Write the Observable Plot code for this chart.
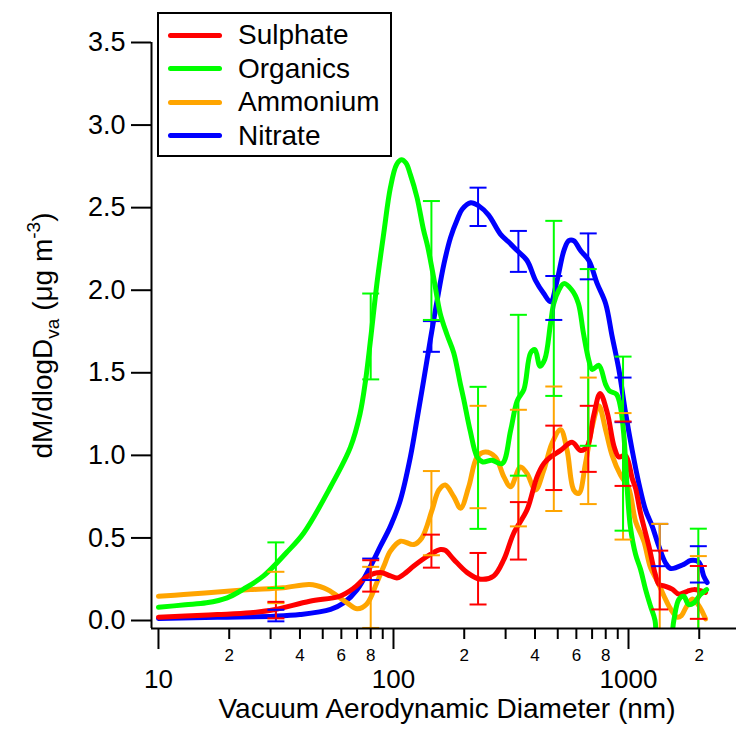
<!DOCTYPE html>
<html>
<head>
<meta charset="utf-8">
<script src="https://cdn.jsdelivr.net/npm/d3@7"></script>
<script src="https://cdn.jsdelivr.net/npm/@observablehq/plot@0.6"></script>
<style>
  html, body { margin: 0; padding: 0; background: #fff; }
  #wrap { position: relative; width: 736px; height: 734px; font-family: 'Liberation Sans', Arial, Helvetica, sans-serif; }
  #legend { position: absolute; left: 157px; top: 12px; width: 231px; height: 141px; border: 2px solid #000; background: #fff; }
  .row { position: absolute; left: 0; height: 34px; display: flex; align-items: center; }
  .sw { width: 54px; height: 5px; border-radius: 3px; margin-left: 9px; margin-right: 16px; }
  .lab { font-size: 28px; color: #000; line-height: 28px; }
</style>
</head>
<body>
<div id="wrap"><div id="chart"></div><div id="legend"></div></div>
<script>
// ---- data ----
const seriesNames = ["Sulphate", "Organics", "Ammonium", "Nitrate"];
const seriesColors = ["#ff0000", "#00ff00", "#ffa500", "#0000ff"];

const sulphateX = [10, 13, 17.8, 24.6, 31, 44, 59, 68, 77, 88, 97, 104, 113, 122, 143.5, 158.5, 166, 180.5, 206, 234.5, 267, 295, 325, 370, 408, 436, 466, 514, 575, 625, 667, 711, 757, 813, 868, 910, 971, 1037, 1072, 1125, 1221, 1300, 1346, 1414, 1534, 1637, 1778, 1897, 2023, 2127];
const sulphateY = [0.02, 0.027, 0.036, 0.047, 0.065, 0.117, 0.147, 0.198, 0.265, 0.29, 0.27, 0.258, 0.29, 0.33, 0.40, 0.43, 0.425, 0.37, 0.29, 0.25, 0.27, 0.37, 0.53, 0.67, 0.87, 0.95, 0.99, 1.03, 1.08, 1.03, 1.054, 1.24, 1.375, 1.256, 1.054, 0.99, 1.0, 0.86, 0.80, 0.65, 0.45, 0.28, 0.22, 0.21, 0.19, 0.16, 0.177, 0.187, 0.18, 0.17];

const organicsX = [10, 13, 16, 19.6, 23, 28, 35, 41.5, 54, 65.6, 72, 76, 80, 85, 91, 97, 103, 108, 113, 118, 126, 134, 140, 148.5, 158, 169, 180.5, 192.7, 199, 212, 227, 240, 262, 290, 315, 336, 359, 383, 400, 420, 440, 466, 481, 505, 531, 575, 612, 643, 678, 701, 748, 799, 830, 889, 925, 957, 986, 1019, 1072, 1125, 1181, 1241, 1297, 1350, 1450, 1559, 1637, 1719, 1800, 1897, 2023, 2150];
const organicsY = [0.08, 0.095, 0.107, 0.137, 0.19, 0.27, 0.41, 0.53, 0.81, 1.05, 1.25, 1.45, 1.71, 2.04, 2.35, 2.62, 2.76, 2.79, 2.77, 2.70, 2.56, 2.37, 2.26, 2.07, 1.86, 1.73, 1.62, 1.43, 1.34, 1.15, 0.99, 0.96, 0.97, 0.95, 1.15, 1.33, 1.40, 1.62, 1.64, 1.54, 1.58, 1.80, 1.92, 2.00, 2.04, 2.00, 1.92, 1.74, 1.575, 1.52, 1.545, 1.43, 1.39, 1.37, 1.29, 1.11, 0.81, 0.565, 0.40, 0.31, 0.19, 0.086, 0.0, -0.3, -0.3, 0.0, 0.127, 0.147, 0.097, 0.107, 0.157, 0.187];

const ammoniumX = [10, 12.8, 19.6, 24.6, 34, 44, 50.5, 54, 63.5, 70, 77, 85, 91, 97, 107, 122, 132, 146, 156, 166, 180.5, 193, 209, 227, 246, 271, 295, 315, 347, 370, 402, 436, 473, 514, 548, 585, 615, 656, 701, 748, 799, 852, 925, 1003, 1072, 1162, 1241, 1325, 1414, 1510, 1611, 1680, 1757, 1870, 1992, 2127];
const ammoniumY = [0.147, 0.157, 0.177, 0.187, 0.198, 0.218, 0.198, 0.177, 0.107, 0.071, 0.1, 0.23, 0.33, 0.42, 0.48, 0.46, 0.50, 0.67, 0.79, 0.82, 0.75, 0.68, 0.81, 0.99, 1.02, 0.99, 0.87, 0.81, 0.93, 0.89, 0.79, 0.91, 1.075, 1.155, 1.03, 0.79, 0.77, 0.95, 1.175, 1.30, 1.155, 1.0, 0.88, 0.80, 0.60, 0.48, 0.32, 0.24, 0.15, 0.07, 0.02, 0.03, 0.08, 0.13, 0.09, 0.01];

const nitrateX = [10, 17.8, 31, 40, 54, 61.5, 70, 80, 88, 97, 107, 118, 126, 134.6, 143.5, 153, 164, 175, 187, 196, 213, 231, 254, 285, 310, 336, 370, 402, 436, 466, 497, 531, 557, 585, 625, 678, 736, 799, 852, 910, 971, 1037, 1107, 1181, 1262, 1346, 1436, 1510, 1719, 1835, 1992, 2089, 2161];
const nitrateY = [0.012, 0.02, 0.026, 0.036, 0.067, 0.107, 0.187, 0.33, 0.45, 0.57, 0.73, 0.99, 1.22, 1.46, 1.70, 1.93, 2.16, 2.32, 2.43, 2.49, 2.53, 2.51, 2.455, 2.34, 2.29, 2.24, 2.18, 2.06, 1.98, 1.93, 2.06, 2.24, 2.30, 2.30, 2.24, 2.18, 2.04, 1.92, 1.72, 1.52, 1.26, 1.03, 0.83, 0.67, 0.57, 0.45, 0.35, 0.315, 0.34, 0.363, 0.353, 0.27, 0.23];

// error bars: shared diameters, per-species centre and half-width (null = not shown)
const errX = [31.6, 80, 145, 229, 340, 481, 674, 948, 1358, 1982];
const sulphateMid = [0.063, 0.27, 0.42, 0.253, 0.543, 0.985, 1.10, 1.01, 0.245, 0.17];
const sulphateErr = [0.05, 0.095, 0.10, 0.156, 0.174, 0.195, 0.20, 0.195, 0.178, 0.16];
const organicsMid = [0.335, 1.72, 2.18, 0.985, 1.364, 1.89, 1.593, 1.071, null, 0.10];
const organicsErr = [0.138, 0.26, 0.36, 0.43, 0.487, 0.53, 0.535, 0.527, null, 0.456];
const ammoniumMid = [0.20, 0.14, 0.65, 0.99, 0.923, 1.04, 1.088, 0.873, 0.22, 0.09];
const ammoniumErr = [0.095, 0.185, 0.255, 0.31, 0.353, 0.377, 0.383, 0.383, 0.365, 0.30];
const nitrateMid = [0.03, 0.31, 1.72, 2.505, 2.235, 1.953, 2.205, 1.336, 0.457, 0.34];
const nitrateErr = [0.035, 0.065, 0.093, 0.116, 0.124, 0.133, 0.139, 0.135, 0.128, 0.11];

// axes
const xDomain = [9.34, 2881];
const yDomain = [-0.0484, 3.5];
const yTicks = [0, 0.5, 1.0, 1.5, 2.0, 2.5, 3.0, 3.5];
const xMajorTicks = [10, 100, 1000];
const xMinorTicks = [20, 30, 40, 50, 60, 70, 80, 90, 200, 300, 400, 500, 600, 700, 800, 900, 2000];
const xMinorLabelTicks = [20, 40, 60, 80, 200, 400, 600, 800, 2000];
const xMinorLabels = ["2", "4", "6", "8", "2", "4", "6", "8", "2"];
const xTitle = "Vacuum Aerodynamic Diameter (nm)";
const yTitle = "dM/dlogDva (μg m-3)";

// ---- build tables ----
const lineSets = {
  Sulphate: [sulphateX, sulphateY], Organics: [organicsX, organicsY],
  Ammonium: [ammoniumX, ammoniumY], Nitrate: [nitrateX, nitrateY]
};
const errSets = {
  Sulphate: [sulphateMid, sulphateErr], Organics: [organicsMid, organicsErr],
  Ammonium: [ammoniumMid, ammoniumErr], Nitrate: [nitrateMid, nitrateErr]
};
const colorOf = Object.fromEntries(seriesNames.map((n, i) => [n, seriesColors[i]]));
const drawOrder = ["Nitrate", "Ammonium", "Sulphate", "Organics"];

const lineData = drawOrder.flatMap(n => lineSets[n][0].map((x, i) => ({series: n, color: colorOf[n], x, y: lineSets[n][1][i]})));
const errData = drawOrder.flatMap(n => errX.map((x, i) => {
  const m = errSets[n][0][i], e = errSets[n][1][i];
  return m == null ? null : {series: n, color: colorOf[n], x, lo: m - e, hi: m + e};
}).filter(d => d));
const capData = errData.flatMap(d => [{...d, v: d.lo}, {...d, v: d.hi}]);
const minorLabelData = xMinorLabelTicks.map((x, i) => ({x, label: xMinorLabels[i]}));

const capSymbol = {
  draw(ctx, size) {
    const r = Math.sqrt(size / Math.PI);
    ctx.moveTo(-r, 0);
    ctx.lineTo(r, 0);
  }
};

const chart = Plot.plot({
  width: 736,
  height: 734,
  marginLeft: 151,
  marginRight: 0,
  marginTop: 42,
  marginBottom: 106,
  style: {fontFamily: "'Liberation Sans', Arial, Helvetica, sans-serif", background: "#fff", color: "#000", overflow: "visible"},
  x: {type: "log", domain: xDomain},
  y: {domain: yDomain},
  color: {type: "identity"},
  marks: [
    Plot.line(lineData, {x: "x", y: "y", z: "series", stroke: "color", strokeWidth: 5, curve: "catmull-rom", strokeLinejoin: "round", clip: true}),
    Plot.ruleX(errData, {x: "x", y1: "lo", y2: "hi", stroke: "color", strokeWidth: 2, clip: true}),
    Plot.dot(capData, {x: "x", y: "v", r: 8.5, symbol: capSymbol, stroke: "color", strokeWidth: 2, fill: "none", clip: true}),
    Plot.ruleX([xDomain[0]], {strokeWidth: 2}),
    Plot.ruleY([yDomain[0]], {strokeWidth: 2}),
    Plot.axisY({ticks: yTicks, tickSize: 20, tickPadding: 6, tickFormat: d3.format(".1f"), fontSize: 27, strokeWidth: 2, label: null}),
    Plot.axisX({ticks: xMajorTicks, tickSize: 21, tickPadding: 20, tickFormat: d => String(d), fontSize: 26, strokeWidth: 2, label: null}),
    Plot.axisX({ticks: xMinorTicks, tickSize: 11, tickFormat: () => "", strokeWidth: 2, label: null}),
    Plot.text(minorLabelData, {x: "x", text: "label", frameAnchor: "bottom", lineAnchor: "top", dy: 20, fontSize: 17}),
    Plot.text([xTitle], {frameAnchor: "bottom", dy: 89, dx: 3, fontSize: 28, textAnchor: "middle", text: d => d}),
    Plot.text([yTitle], {frameAnchor: "left", dx: -108, rotate: -90, fontSize: 28, textAnchor: "middle", text: d => d})
  ]
});
document.getElementById("chart").appendChild(chart);

// y-axis title with subscript / superscript
d3.select(chart).selectAll("text").filter(function() { return this.textContent === yTitle; }).each(function() {
  const t = d3.select(this);
  t.text(null);
  t.append("tspan").text("dM/dlogD");
  t.append("tspan").attr("font-size", 19).attr("dy", 7).text("va");
  t.append("tspan").attr("dy", -7).text(" (μg m");
  t.append("tspan").attr("font-size", 19).attr("dy", -12).text("-3");
  t.append("tspan").attr("dy", 12).text(")");
});

// legend
const legend = document.getElementById("legend");
seriesNames.forEach((n, i) => {
  const row = document.createElement("div");
  row.className = "row";
  row.style.top = (4 + i * 33.5) + "px";
  row.innerHTML = `<div class="sw" style="background:${seriesColors[i]}"></div><span class="lab">${n}</span>`;
  legend.appendChild(row);
});
</script>
</body>
</html>
